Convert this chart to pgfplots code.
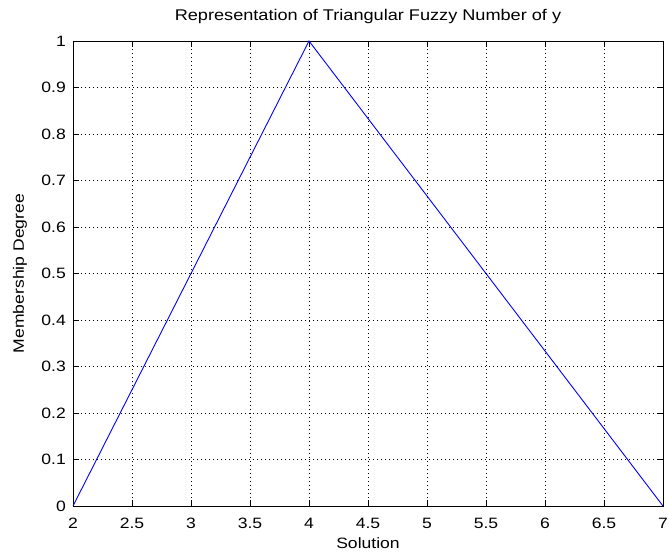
\documentclass[border=0pt]{standalone}
\usepackage{pgfplots}
\pgfplotsset{compat=1.18}
\usepackage{fontspec}
\setmainfont{Liberation Sans}[FakeStretch=1.17]
\begin{document}
\begin{tikzpicture}
% fixed page size: 669 x 555, axis box at 73..663 / 41..506 from top-left
\useasboundingbox (-73pt,-49pt) rectangle (596pt,506pt);
\begin{axis}[
    at={(0,0)}, anchor=south west,
    scale only axis,
    width=590pt, height=465pt,
    xmin=2, xmax=7, ymin=0, ymax=1,
    xtick={2,2.5,3,3.5,4,4.5,5,5.5,6,6.5,7},
    ytick={0,0.1,0.2,0.3,0.4,0.5,0.6,0.7,0.8,0.9,1},
    font=\fontsize{15}{18}\selectfont,
    /pgf/number format/assume math mode=true,
    axis line style={black, line width=0.9pt},
    tick style={black, line width=0.9pt},
    tick align=inside,
    major tick length=6pt,
    grid=major,
    grid style={black, line width=0.9pt, dash pattern=on 0.9pt off 3.1pt},
    xticklabel style={anchor=center, yshift=-17pt},
    yticklabel style={anchor=east, inner sep=0pt, xshift=-7pt},
    title={Representation of Triangular Fuzzy Number of y},
    title style={at={(axis description cs:0.5,1.039)}, anchor=center,
        font=\fontsize{15.5}{18}\selectfont},
    xlabel={Solution},
    xlabel style={at={(axis description cs:0.5,-0.0796)}, anchor=center},
    ylabel={Membership Degree},
    ylabel style={at={(axis description cs:-0.0898,0.5)}, anchor=center},
]
\addplot[blue, line width=0.9pt] coordinates {(2,0) (4,1) (7,0)};
\end{axis}
\end{tikzpicture}
\end{document}
